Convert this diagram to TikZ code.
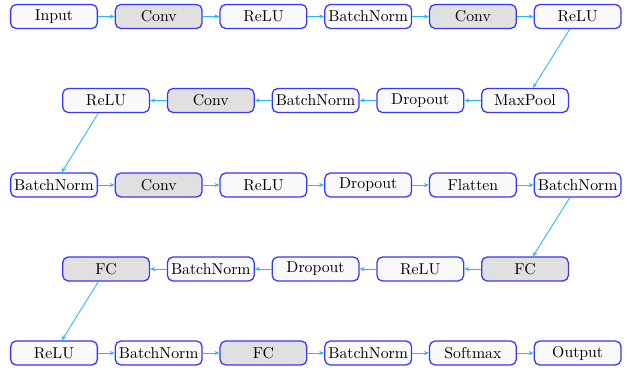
\documentclass[tikz,border=0pt]{standalone}
\usepackage{xcolor}
\usepackage{tikz}
\usetikzlibrary{positioning,arrows.meta}

\definecolor{boxblue}{RGB}{55,55,250}
\definecolor{arrcyan}{RGB}{40,185,240}

\begin{document}
\begin{tikzpicture}[x=0.634pt, y=-0.634pt, node distance=10.6pt,
		layer/.style={draw=boxblue, line width=0.8pt, rounded corners=3.5pt, fill=gray!5, minimum width=55pt, minimum height=15.2pt, inner sep=1pt},
		wlayer/.style={layer, fill=gray!24},
		arr/.style={draw=arrcyan, line width=0.55pt, -{Stealth[length=3.2pt, width=2.6pt]}}]
		\useasboundingbox (0,0) rectangle (627,370);
		% row 1
		\node[layer] (in) at (54,16.5) {Input};
		\node[wlayer, right=of in] (conv1) {Conv};
		\node[layer, right=of conv1] (relu1) {ReLU};
		\node[layer, right=of relu1] (bn1) {BatchNorm};
		\node[wlayer, right=of bn1] (conv2) {Conv};
		\node[layer, right=of conv2] (relu2) {ReLU};
		% row 2
		\node[layer] (pool) at (525,100.5) {MaxPool};
		\node[layer, left=of pool] (drop1) {Dropout};
		\node[layer, left=of drop1] (bn2) {BatchNorm};
		\node[wlayer, left=of bn2] (conv3) {Conv};
		\node[layer, left=of conv3] (relu3) {ReLU};
		% row 3
		\node[layer] (bn3) at (54,185) {BatchNorm};
		\node[wlayer, right=of bn3] (conv4) {Conv};
		\node[layer, right=of conv4] (relu4) {ReLU};
		\node[layer, right=of relu4] (drop2) {Dropout};
		\node[layer, right=of drop2] (flat) {Flatten};
		\node[layer, right=of flat] (bn4) {BatchNorm};
		% row 4
		\node[wlayer] (fc1) at (525,269) {FC};
		\node[layer, left=of fc1] (relu5) {ReLU};
		\node[layer, left=of relu5] (drop3) {Dropout};
		\node[layer, left=of drop3] (bn5) {BatchNorm};
		\node[wlayer, left=of bn5] (fc2) {FC};
		% row 5
		\node[layer] (relu6) at (54,353) {ReLU};
		\node[layer, right=of relu6] (bn6) {BatchNorm};
		\node[wlayer, right=of bn6] (fc3) {FC};
		\node[layer, right=of fc3] (bn7) {BatchNorm};
		\node[layer, right=of bn7] (soft) {Softmax};
		\node[layer, right=of soft] (out) {Output};
		% connections
		\foreach \a/\b in {in/conv1, conv1/relu1, relu1/bn1, bn1/conv2, conv2/relu2, relu2/pool,
			pool/drop1, drop1/bn2, bn2/conv3, conv3/relu3, relu3/bn3,
			bn3/conv4, conv4/relu4, relu4/drop2, drop2/flat, flat/bn4, bn4/fc1,
			fc1/relu5, relu5/drop3, drop3/bn5, bn5/fc2, fc2/relu6,
			relu6/bn6, bn6/fc3, fc3/bn7, bn7/soft, soft/out}
			\draw[arr] (\a) -- (\b);
	\end{tikzpicture}
\end{document}
